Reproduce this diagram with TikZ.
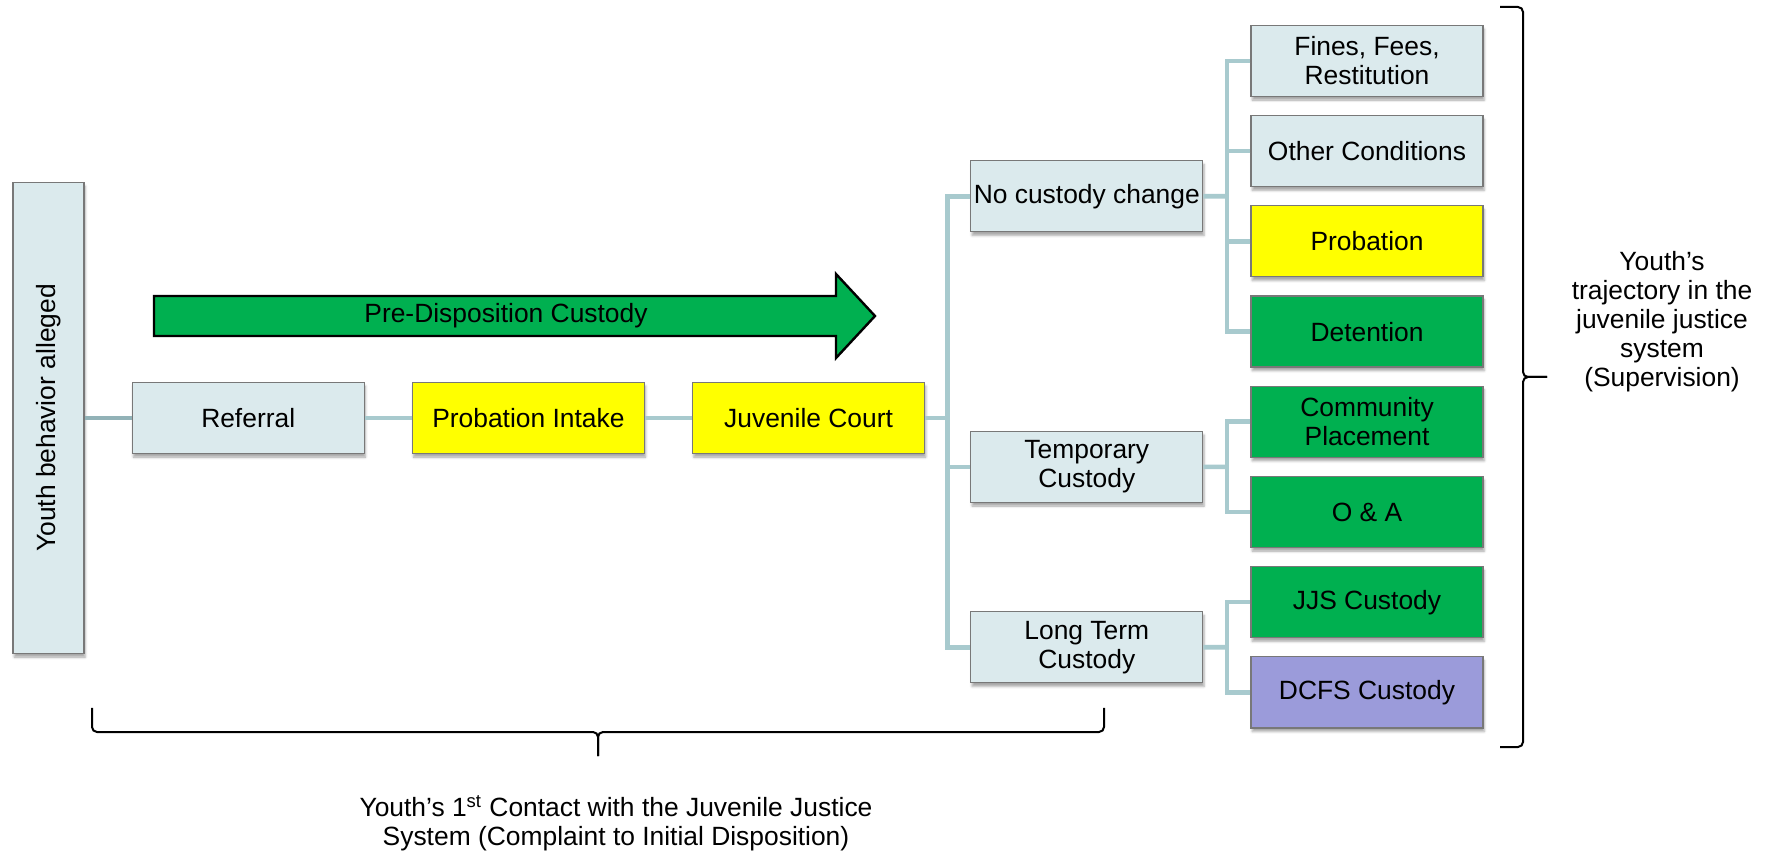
\documentclass[tikz,border=0pt]{standalone}
\usepackage{fontspec}
\setmainfont{Liberation Sans}
\usepackage{graphicx}
\usepackage{tikz}
\usetikzlibrary{positioning, calc, shadows.blur}
\definecolor{boxblue}{RGB}{219,234,237}
\definecolor{boxyellow}{RGB}{255,255,0}
\definecolor{boxgreen}{RGB}{0,176,80}
\definecolor{boxpurple}{RGB}{155,155,218}
\definecolor{boxline}{RGB}{120,120,120}
\definecolor{linkcol}{RGB}{168,202,206}
\definecolor{linkcol-dark}{RGB}{146,178,183}
\tikzset{
  stagebox/.style={
    rectangle, draw=boxline, line width=0.6pt,
    fill=boxblue,
    minimum width=116pt, minimum height=35.5pt,
    align=center, font=\fontsize{13.2}{14.5}\selectfont, inner sep=1pt,
    blur shadow={shadow xshift=0.6pt, shadow yshift=-1.8pt,
      shadow blur steps=4, shadow blur radius=1.2pt, shadow opacity=35}
  },
  stagebox-tall/.style={stagebox, minimum width=35.5pt, minimum height=235.5pt},
  stagebox-yellow/.style={stagebox, fill=boxyellow},
  stagebox-green/.style={stagebox, fill=boxgreen},
  stagebox-purple/.style={stagebox, fill=boxpurple},
  linkline/.style={draw=linkcol, line width=2.3pt},
  linkline-dark/.style={linkline, draw=linkcol-dark},
  bigarrow/.style={fill=boxgreen, draw=black, line width=1.2pt, line join=miter},
  bracket/.style={draw=black, line width=1pt, rounded corners=2.5pt},
  notetext/.style={align=center, font=\fontsize{13.2}{14.5}\selectfont}
}

\begin{document}
\begin{tikzpicture}[x=0.5pt, y=-0.5pt, node distance=9pt and 23.5pt]
  \useasboundingbox (0,0) rectangle (1766,854);

  \node[stagebox-tall] (youth) at (48.5,418) {\rotatebox{90}{Youth behavior alleged}};
  \node[stagebox, right=of youth] (referral) {Referral};
  \node[stagebox-yellow, right=of referral] (intake) {Probation Intake};
  \node[stagebox-yellow, right=of intake] (court) {Juvenile Court};

  \node[stagebox] (fines) at (1367,61) {Fines, Fees,\\Restitution};
  \node[stagebox, below=of fines] (other) {Other Conditions};
  \node[stagebox-yellow, below=of other] (probation) {Probation};
  \node[stagebox-green, below=of probation] (detention) {Detention};
  \node[stagebox-green, below=of detention] (community) {Community\\Placement};
  \node[stagebox-green, below=of community] (oanda) {O \& A};
  \node[stagebox-green, below=of oanda] (jjs) {JJS Custody};
  \node[stagebox-purple, below=of jjs] (dcfs) {DCFS Custody};

  \coordinate (nocust-in) at ($(other.west)!0.5!(probation.west)$);
  \coordinate (temp-in) at ($(community.west)!0.5!(oanda.west)$);
  \coordinate (long-in) at ($(jjs.west)!0.5!(dcfs.west)$);
  \node[stagebox, left=of nocust-in] (nocust) {No custody change};
  \node[stagebox, left=of temp-in] (temporary) {Temporary\\Custody};
  \node[stagebox, left=of long-in] (longterm) {Long Term\\Custody};

  \draw[bigarrow] (154,296) -- (836,296) -- (836,274) -- (875,316)
    -- (836,358) -- (836,336) -- (154,336) -- cycle;
  \node[notetext] (predisp) at (506,316) {Pre-Disposition Custody};

  \coordinate (split) at ($(court.east)!0.5!(court.east -| nocust.west)$);
  \coordinate (fork1) at ($(nocust.east)!0.5!(nocust.east -| fines.west)$);
  \coordinate (fork2) at ($(temporary.east)!0.5!(temporary.east -| fines.west)$);
  \coordinate (fork3) at ($(longterm.east)!0.5!(longterm.east -| fines.west)$);

  \draw[linkline-dark] (youth) -- (referral);
  \draw[linkline] (referral) -- (intake);
  \draw[linkline] (intake) -- (court);
  \draw[linkline] (court.east) -- (split);
  \draw[linkline] (nocust.west) -| (split) |- (longterm.west);
  \draw[linkline] (temporary.west) -- (temporary.west -| split);

  \draw[linkline] (nocust.east) -- (fork1);
  \draw[linkline] (fines.west) -| (fork1) |- (detention.west);
  \draw[linkline] (other.west) -- (other.west -| fork1);
  \draw[linkline] (probation.west) -- (probation.west -| fork1);
  \draw[linkline] (temporary.east) -- (fork2);
  \draw[linkline] (community.west) -| (fork2) |- (oanda.west);
  \draw[linkline] (longterm.east) -- (fork3);
  \draw[linkline] (jjs.west) -| (fork3) |- (dcfs.west);

  \draw[bracket] (1500,7) -- (1523,7) -- (1523,377) -- (1547,377);
  \draw[bracket] (1500,747) -- (1523,747) -- (1523,377) -- (1547,377);
  \node[notetext] (trajectory) at (1662,322) {Youth’s\\trajectory in the\\juvenile justice\\system\\(Supervision)};

  \draw[bracket] (92,708) -- (92,732) -- (598,732) -- (598,756);
  \draw[bracket] (1104,708) -- (1104,732) -- (598,732) -- (598,756);
  \node[notetext] (firstcontact) at (616,823) {Youth’s 1\textsuperscript{st} Contact with the Juvenile Justice\\System (Complaint to Initial Disposition)};
\end{tikzpicture}
\end{document}
